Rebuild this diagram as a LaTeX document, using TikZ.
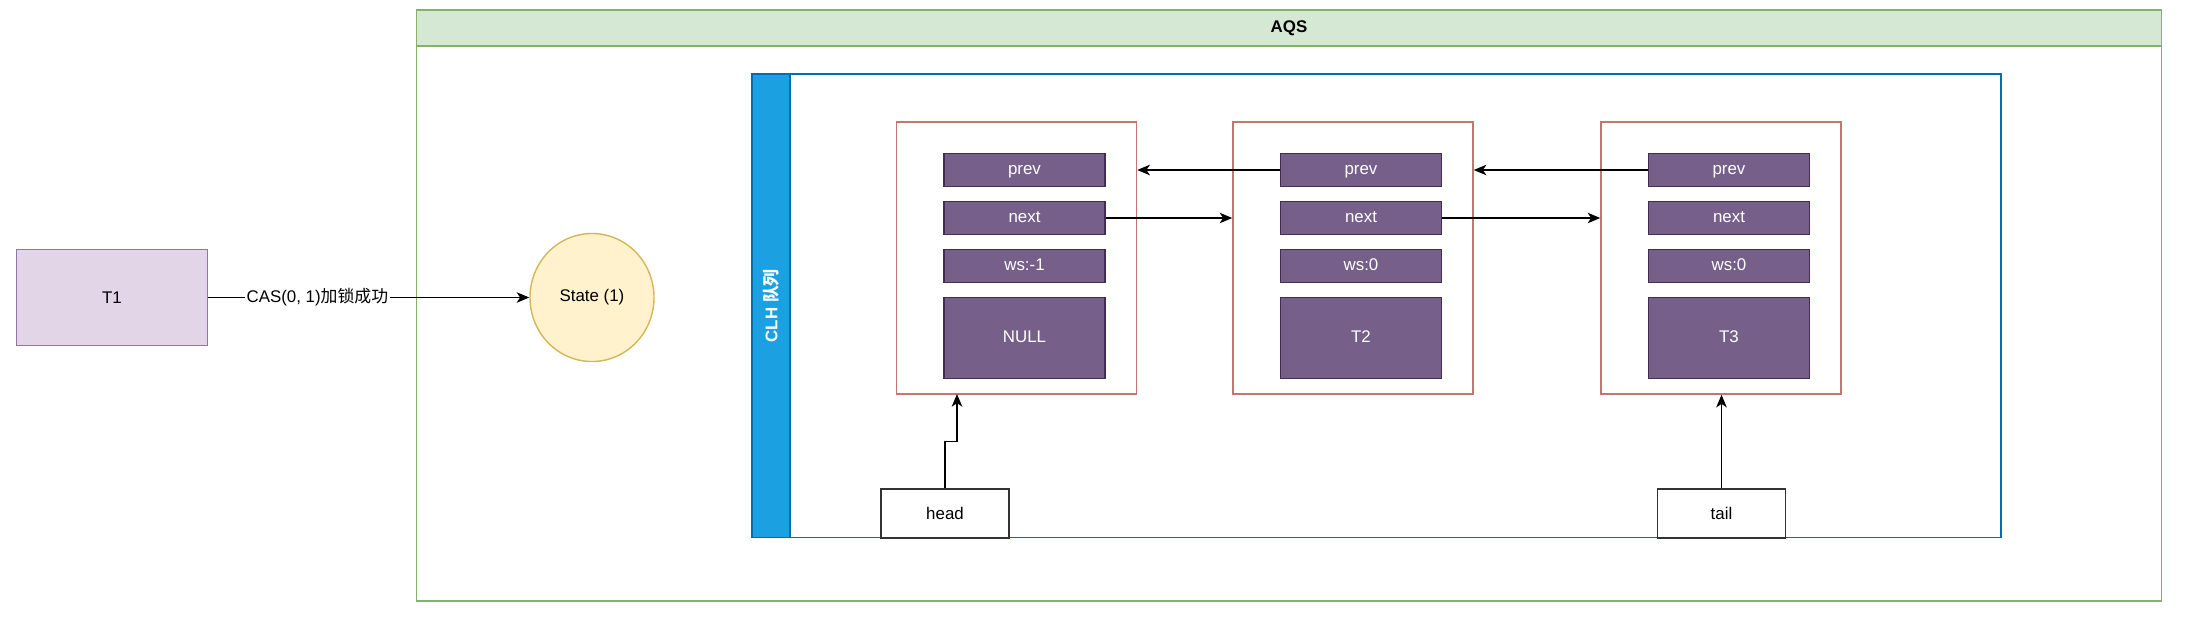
\documentclass[tikz,border=0pt]{standalone}
\usepackage{fontspec}
\setmainfont{Liberation Sans}
\newfontfamily\cjk{Noto Sans CJK SC}
\usetikzlibrary{arrows.meta}
\usetikzlibrary{shapes.geometric}
\definecolor{lilac}{HTML}{E1D5E7}
\definecolor{lilacline}{HTML}{9673A6}
\definecolor{cream}{HTML}{FFF2CC}
\definecolor{creamline}{HTML}{D6B656}
\definecolor{mint}{HTML}{D5E8D4}
\definecolor{mintline}{HTML}{82B366}
\definecolor{sky}{HTML}{1BA1E2}
\definecolor{skyline}{HTML}{006EAF}
\definecolor{plum}{HTML}{76608A}
\definecolor{plumline}{HTML}{432D57}
\definecolor{rose}{HTML}{C87370}

\begin{document}
\begin{tikzpicture}[x=0.025cm, y=-0.025cm, >={Stealth[length=9pt, width=7.5pt, inset=2.5pt]}, line width=1pt,
  font=\fontsize{12}{14}\selectfont,
  box/.style={rectangle, draw, inner sep=0pt},
  field/.style={box, fill=plum, draw=plumline, text=white, minimum width=4.025cm, minimum height=0.825cm,
    text height=1.6ex, text depth=0.3ex},
  owner/.style={field, minimum height=2.025cm},
  qnode/.style={box, draw=rose, fill=white, minimum width=6cm, minimum height=6.8cm},
  ptr/.style={box, draw=black!80, fill=white, minimum width=3.2cm, minimum height=1.225cm}]
\useasboundingbox (0,0) rectangle (2192,625);
\node [box, draw=mintline, minimum width=43.6cm, minimum height=14.775cm] (aqs) at (1289,305.5) {};
\node [box, draw=mintline, fill=mint, minimum width=43.6cm, minimum height=0.9cm, font=\fontsize{12}{14}\selectfont\bfseries] (aqshead) at (1289,28) {AQS};
\node [box, draw=skyline, minimum width=31.225cm, minimum height=11.5875cm] (clh) at (1376.5,305.75) {};
\node [box, draw=skyline, fill=sky, minimum width=0.95cm, minimum height=11.5875cm] (clhhead) at (771,305.75) {};
\node [rotate=90, text=white, font=\fontsize{12}{14}\selectfont\bfseries] (clhtitle) at (771,305.75) {CLH {\cjk 队列}};

\node [box, draw=lilacline, fill=lilac, minimum width=4.775cm, minimum height=2.4cm] (t1) at (112,297.5) {T1};
\node [ellipse, draw=creamline, fill=cream, minimum width=3.1cm, minimum height=3.2cm, inner sep=0pt] (state) at (592,297.5) {State (1)};
\draw [->] (t1) -- node [pos=0.34, fill=white, inner sep=1pt] {CAS(0, 1){\cjk 加锁成功}} (state);

\node [qnode] (n1) at (1016.5,258) {};
\node [qnode] (n2) at (1353,258) {};
\node [qnode] (n3) at (1721,258) {};
\foreach \n/\x/\ws/\who in {n1/1024.5/-1/NULL, n2/1361/0/T2, n3/1729/0/T3} {
  \node [field] (\n prev) at (\x,170) {prev};
  \node [field] (\n next) at (\x,218) {next};
  \node [field] (\n ws) at (\x,266) {ws:\ws};
  \node [owner] (\n who) at (\x,338) {\who};
}
\draw [->] (n2prev.west) -- (n2prev.west -| n1.east);
\draw [->] (n3prev.west) -- (n3prev.west -| n2.east);
\draw [->] (n1next.east) -- (n1next.east -| n2.west);
\draw [->] (n2next.east) -- (n2next.east -| n3.west);

\node [ptr] (head) at (945,513.5) {head};
\node [ptr] (tail) at (1721.5,513.5) {tail};
\coordinate (headin) at (957,394);
\draw [->] (head.north) -- ++(0,-47) -| (headin);
\draw [->] (tail.north) -- (tail.north |- n3.south);
\end{tikzpicture}
\end{document}
